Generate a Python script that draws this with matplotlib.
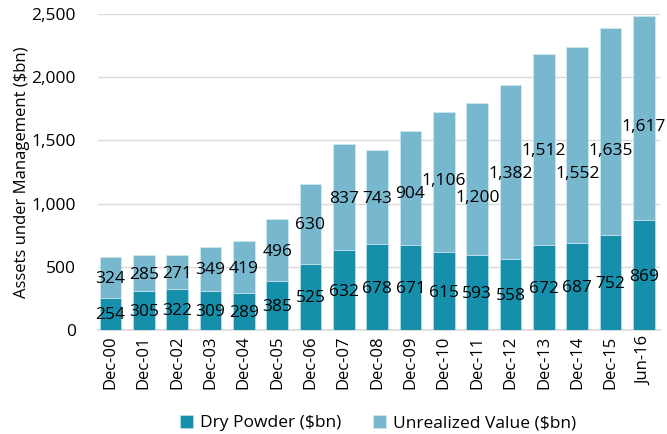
import matplotlib
matplotlib.use("Agg")
import matplotlib.pyplot as plt
import numpy as np
from matplotlib.ticker import FuncFormatter, MultipleLocator

periods = ["Dec-00", "Dec-01", "Dec-02", "Dec-03", "Dec-04", "Dec-05", "Dec-06",
           "Dec-07", "Dec-08", "Dec-09", "Dec-10", "Dec-11", "Dec-12", "Dec-13",
           "Dec-14", "Dec-15", "Jun-16"]
dry_powder = [254, 305, 322, 309, 289, 385, 525, 632, 678, 671, 615, 593, 558,
              672, 687, 752, 869]
unrealized = [324, 285, 271, 349, 419, 496, 630, 837, 743, 904, 1106, 1200, 1382,
              1512, 1552, 1635, 1617]

# label vertical nudges (data units) for unrealized labels, as in the reference
unreal_nudge = [0, 0, 0, 0, 0, 0, 0, 0, 0, -35, 20, -140, 0, 0, -220, -140, -60]

plt.rcParams['font.family'] = ['Open Sans', 'DejaVu Sans']

DARK = "#168fab"
LIGHT = "#78b8cf"

fig = plt.figure(figsize=(6.67, 4.34), dpi=100)
ax = fig.add_axes([98/667, (434-330)/434, (660-98)/667, (330-14)/434])

x = np.arange(len(periods))
w = 0.65
b1 = ax.bar(x, dry_powder, width=w, color=DARK, edgecolor="#cfe6ee", linewidth=0.4,
            label="Dry Powder ($bn)", zorder=3)
b2 = ax.bar(x, unrealized, width=w, bottom=dry_powder, color=LIGHT, edgecolor="#d8ecf3",
            linewidth=0.4, label="Unrealized Value ($bn)", zorder=3)

for i in range(len(x)):
    ax.text(x[i], dry_powder[i] / 2 - 12, f"{dry_powder[i]:,}", ha="center", va="center",
            fontsize=12.5, color="black", zorder=4)
    ax.text(x[i], dry_powder[i] + unrealized[i] / 2 - 12 + unreal_nudge[i],
            f"{unrealized[i]:,}", ha="center", va="center",
            fontsize=12.5, color="black", zorder=4)

ax.set_xlim(-0.37, 16.48)
ax.set_ylim(0, 2500)
ax.yaxis.set_major_locator(MultipleLocator(500))
ax.yaxis.set_major_formatter(FuncFormatter(lambda v, p: f"{int(v):,}"))
ax.set_xticks(x)
ax.set_xticklabels(periods, rotation=90, fontsize=12)
ax.tick_params(axis="y", labelsize=12.5, length=0, pad=16)
ax.tick_params(axis="x", length=0, pad=4)
ax.grid(axis="y", color="#d9d9d9", linewidth=1, zorder=0)
for s in ["left", "right", "top"]:
    ax.spines[s].set_visible(False)
ax.spines["bottom"].set_color("#d9d9d9")
ax.spines["bottom"].set_linewidth(1.2)

ax.set_ylabel("Assets under Management ($bn)", fontsize=12, labelpad=1)

fig.legend(handles=[b1, b2], loc="center", bbox_to_anchor=(378/667, 1 - 423/434),
           ncol=2, frameon=False, fontsize=12.5, handlelength=0.75, handleheight=0.75,
           handletextpad=0.4, columnspacing=1.8)

fig.savefig("out.png", dpi=100)
